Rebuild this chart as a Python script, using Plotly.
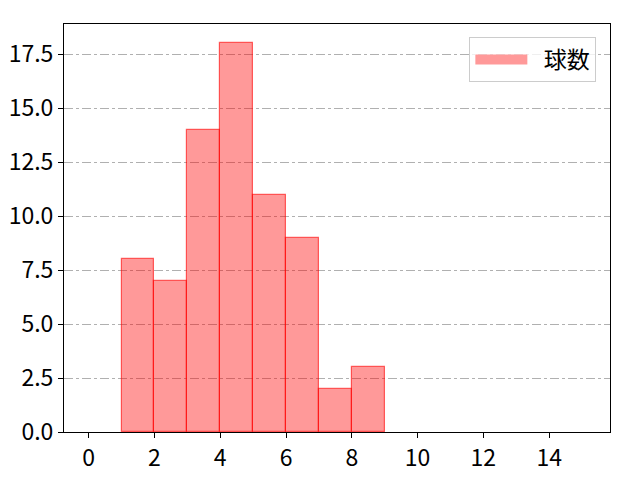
import plotly.graph_objects as go

# histogram bins (left edges) and counts
bin_left = [1, 2, 3, 4, 5, 6, 7, 8]
counts = [8, 7, 14, 18, 11, 9, 2, 3]
x_ticks = [0, 2, 4, 6, 8, 10, 12, 14]
y_ticks = [0, 2.5, 5, 7.5, 10, 12.5, 15, 17.5]

fig = go.Figure()
fig.add_trace(go.Bar(
    x=[b + 0.5 for b in bin_left],
    y=counts,
    width=1,
    name='球数',
    marker=dict(color='rgba(255,0,0,0.4)', line=dict(color='rgba(255,0,0,0.6)', width=1.2)),
    showlegend=False,
))
# legend entry drawn as a wide patch like matplotlib's
fig.add_trace(go.Scatter(
    x=[None], y=[None], mode='lines', name='\u2002球数',
    line=dict(color='rgba(255,0,0,0.4)', width=14),
))

# the page adds an 8px body margin, so margins are shifted to compensate
fig.update_layout(
    width=640, height=480,
    margin=dict(l=56, r=38, t=16, b=56, autoexpand=False),
    plot_bgcolor='white', paper_bgcolor='white',
    font=dict(family='Noto Sans CJK JP', size=23, color='black'),
    bargap=0,
    showlegend=True,
    legend=dict(
        x=0.975, y=0.968, xanchor='right', yanchor='top',
        bordercolor='#cccccc', borderwidth=1, bgcolor='rgba(255,255,255,0.8)',
        font=dict(family='Noto Sans CJK JP', size=23),
        itemwidth=52,
    ),
)
fig.update_xaxes(
    range=[-0.75, 15.85], tickvals=x_ticks, ticktext=[str(t) for t in x_ticks],
    showgrid=False, showline=True, linecolor='black', linewidth=1, mirror=True,
    ticks='outside', ticklen=5, tickcolor='black', zeroline=False, automargin=False,
)
fig.update_yaxes(
    range=[0, 18.9], tickvals=y_ticks, ticktext=['%.1f' % t for t in y_ticks],
    showgrid=True, gridcolor='#b0b0b0', griddash='dashdot', gridwidth=0.8,
    showline=True, linecolor='black', linewidth=1, mirror=True,
    ticks='outside', ticklen=5, tickcolor='black', zeroline=False,
    layer='above traces', automargin=False,
)

fig.write_html("out.html")
